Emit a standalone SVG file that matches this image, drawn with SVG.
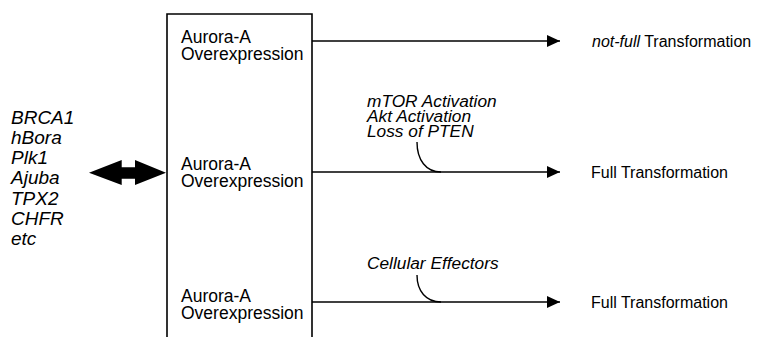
<svg xmlns="http://www.w3.org/2000/svg" width="757" height="337" viewBox="0 0 757 337">
<style>
text{font-family:"Liberation Sans",Arial,Helvetica,sans-serif;fill:#000}
.a{font-size:17.5px}
.n{font-size:16px}
.i{font-size:17.3px;font-style:italic}
.l{font-size:19px;font-style:italic}
.ln{fill:none;stroke:#000;stroke-width:1.4}
.box{fill:none;stroke:#000;stroke-width:1.6}
</style>
<defs>
<marker id="ah" markerWidth="14" markerHeight="12" refX="13" refY="6" orient="auto" markerUnits="userSpaceOnUse">
<path d="M0,0 L13,6 L0,12 Z" fill="#000"/>
</marker>
</defs>
<rect width="757" height="337" fill="#fff"/>
<g id="box">
<path class="box" d="M167,345 V14 H312 V345"/>
<text class="a" x="181" y="42.5">Aurora-A</text>
<text class="a" x="181" y="59.5">Overexpression</text>
<text class="a" x="181" y="170">Aurora-A</text>
<text class="a" x="181" y="187">Overexpression</text>
<text class="a" x="181" y="301.5">Aurora-A</text>
<text class="a" x="181" y="318.5">Overexpression</text>
</g>
<g id="partners">
<text class="l" x="11" y="123.5">BRCA1</text>
<text class="l" x="11" y="143.8">hBora</text>
<text class="l" x="11" y="164.1">Plk1</text>
<text class="l" x="11" y="184.4">Ajuba</text>
<text class="l" x="11" y="204.7">TPX2</text>
<text class="l" x="11" y="225">CHFR</text>
<text class="l" x="11" y="245.3">etc</text>
</g>
<g id="out1"><text class="n" x="592" y="46.5"><tspan font-style="italic">not-full</tspan> Transformation</text></g>
<g id="out2"><text class="n" x="591" y="177.5">Full Transformation</text></g>
<g id="out3"><text class="n" x="591" y="307.5">Full Transformation</text></g>
<g id="label2">
<text class="i" x="367" y="107">mTOR Activation</text>
<text class="i" x="367" y="122">Akt Activation</text>
<text class="i" x="367" y="137">Loss of PTEN</text>
</g>
<g id="label3"><text class="i" x="367" y="269">Cellular Effectors</text></g>
<g id="connectors">
<polygon points="89,172.7 121.7,160 121.7,167.3 135,167.3 135,160 166,172.7 135,185 135,178.7 121.7,178.7 121.7,185" fill="#000"/>
<line class="ln" x1="312" y1="41" x2="560" y2="41" marker-end="url(#ah)"/>
<line class="ln" x1="312" y1="172" x2="560" y2="172" marker-end="url(#ah)"/>
<line class="ln" x1="312" y1="302" x2="560" y2="302" marker-end="url(#ah)"/>
<path class="ln" d="M417,142 C417,160 426,172 441,172"/>
<path class="ln" d="M417,275 C417,291 426,302 441,302"/>
</g>
</svg>
